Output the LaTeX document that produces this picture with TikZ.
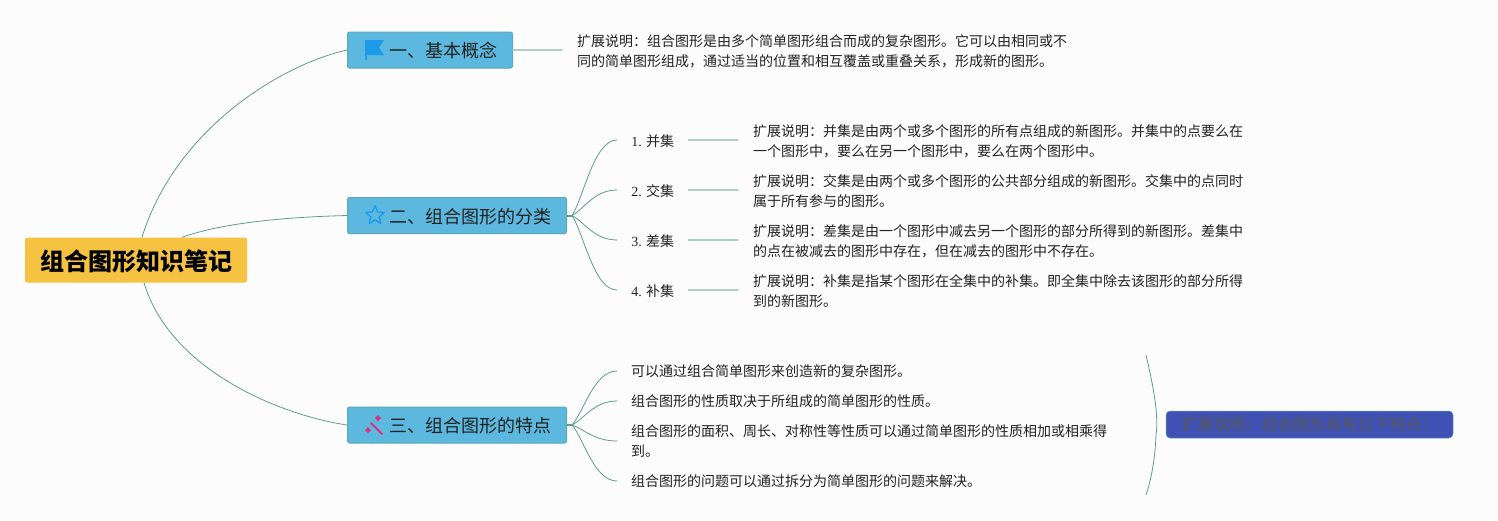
\documentclass[tikz,border=0pt]{standalone}
\usepackage{fontspec}
\usetikzlibrary{shapes.geometric}
\setmainfont{Noto Sans CJK SC}
\newfontfamily\numfont{Liberation Serif}
\newcommand{\zhcolon}{\char"FF1A\relax}
\newcommand{\zhcomma}{\char"FF0C\relax}
\definecolor{paper}{HTML}{FCFCFC}
\definecolor{linkgreen}{HTML}{5E9E90}
\definecolor{stubgreen}{HTML}{AECFC6}
\definecolor{topicblue}{HTML}{5CB8DE}
\definecolor{topicedge}{HTML}{5FA9B0}
\definecolor{rootgold}{HTML}{F5C242}
\definecolor{notebar}{HTML}{3F51B5}
\definecolor{inktext}{HTML}{222222}
\definecolor{flagblue}{HTML}{1E9BE8}
\definecolor{wandpink}{HTML}{E0307A}
\tikzset{
	rootbox/.style={fill=rootgold, rounded corners=2pt, minimum width=222pt, minimum height=45pt, inner sep=0pt, text height=21pt, text depth=0pt, font=\fontsize{24}{28}\selectfont\bfseries},
	topicbox/.style={fill=topicblue, draw=topicedge, line width=1pt, rounded corners=2pt, minimum height=36pt, inner xsep=15pt, inner ysep=0pt, align=right, anchor=west, text height=16pt, text depth=1pt, text=inktext, font=\fontsize{18}{22}\selectfont},
	subitem/.style={anchor=west, inner xsep=14pt, inner ysep=0pt, text=inktext, font=\fontsize{14}{20}\selectfont},
	notetext/.style={anchor=west, align=left, inner xsep=15pt, inner ysep=0pt, text=inktext, font=\fontsize{14}{20}\selectfont},
	link/.style={draw=linkgreen, line width=0.8pt},
	stub/.style={draw=stubgreen, line width=1.4pt}
}
\begin{document}
\begin{tikzpicture}[x=1pt, y=-1pt, line join=round, line cap=round]
	\useasboundingbox[fill=paper] (0,0) rectangle (1498,520);
	\node[rootbox] (root) at (136,260) {组合图形知识笔记};
	\node[topicbox, text width=135pt] (basic) at (347,50) {一、基本概念};
	\node[topicbox, text width=189pt] (kinds) at (347,215.5) {二、组合图形的分类};
	\node[topicbox, text width=189pt] (traits) at (347,425) {三、组合图形的特点};
	% root links
	\draw[link] ([xshift=6pt]root.north) .. controls (175,130) and (280,65) .. (basic.west);
	\draw[link] ([xshift=46pt]root.north) .. controls (225,222) and (290,217) .. (kinds.west);
	\draw[link] ([xshift=8pt]root.south) .. controls (170,370) and (280,415) .. (traits.west);
	% first topic
	\node[notetext, inner xsep=15pt] (basicnote) at (562,51) {扩展说明\zhcolon 组合图形是由多个简单图形组合而成的复杂图形。它可以由相同或不\\同的简单图形组成\zhcomma 通过适当的位置和相互覆盖或重叠关系\zhcomma 形成新的图形。};
	\draw[stub] (basic.east) -- (basicnote.west |- basic.east);
	% second topic
	\coordinate (hubkinds) at (572,215.5);
	\coordinate (hubtraits) at (572,425);
	\draw[link, line width=2pt] (kinds.east) -- (hubkinds);
	\draw[link, line width=2pt] (traits.east) -- (hubtraits);
	\foreach \n/\y/\lbl/\txt in {
		1/140/并集/{扩展说明\zhcolon 并集是由两个或多个图形的所有点组成的新图形。并集中的点要么在\\一个图形中\zhcomma 要么在另一个图形中\zhcomma 要么在两个图形中。},
		2/190/交集/{扩展说明\zhcolon 交集是由两个或多个图形的公共部分组成的新图形。交集中的点同时\\属于所有参与的图形。},
		3/240/差集/{扩展说明\zhcolon 差集是由一个图形中减去另一个图形的部分所得到的新图形。差集中\\的点在被减去的图形中存在\zhcomma 但在减去的图形中不存在。},
		4/290/补集/{扩展说明\zhcolon 补集是指某个图形在全集中的补集。即全集中除去该图形的部分所得\\到的新图形。}} {
		\node[subitem, minimum width=71pt, text height=12pt, text depth=0pt] (kind\n) at (617,\y) {{\numfont\n.} \lbl};
		\node[notetext] (kindnote\n) at (738,\y+1) {\txt};
		\draw[link] (hubkinds) .. controls (584,215.5+0.25*\y-53.875) and (594,\y) .. (kind\n.west);
		\draw[stub] (kind\n.east) -- (kindnote\n.west |- kind\n.east);
	}
	% third topic
	\foreach \n/\y/\txt in {
		1/371/可以通过组合简单图形来创造新的复杂图形。,
		2/401/组合图形的性质取决于所组成的简单图形的性质。,
		3/441/{组合图形的面积、周长、对称性等性质可以通过简单图形的性质相加或相乘得\\到。},
		4/481/组合图形的问题可以通过拆分为简单图形的问题来解决。} {
		\node[subitem, align=left] (trait\n) at (617,\y) {\txt};
		\draw[link] (hubtraits) .. controls (584,425+0.25*\y-106.25) and (594,\y) .. (trait\n.west);
	}
	% summary bracket and bar
	\coordinate (bracetop) at (1146,355);
	\coordinate (bracebot) at (1146,495);
	\draw[link] (bracetop) .. controls (1153,385) and (1159,415) .. (1156,435) .. controls (1155,460) and (1151,480) .. (bracebot);
	\node[fill=notebar, draw=topicedge, line width=0.5pt, rounded corners=4pt, minimum width=287pt, minimum height=27pt, inner sep=0pt, text=black!65, font=\fontsize{16}{18}\selectfont] (summary) at (1309.5,424.5) {扩展说明\zhcolon 组合图形具有以下特点\zhcolon};
	% icons
	\fill[flagblue] (365,40) -- (384,40) -- (379,47.5) -- (384,55) -- (367,55) -- (367,60) -- (365,60) -- cycle;
	\node[star, star points=5, star point ratio=2.2, draw=flagblue, line width=1.4pt, minimum size=19.5pt, inner sep=0pt] (staricon) at (375,215.5) {};
	\draw[wandpink, line width=2pt] (371,423) -- (382,434);
	\foreach \x/\y in {368/430, 378/418} {
		\fill[wandpink] (\x,\y-3) -- (\x+3,\y) -- (\x,\y+3) -- (\x-3,\y) -- cycle;
	}
\end{tikzpicture}
\end{document}
